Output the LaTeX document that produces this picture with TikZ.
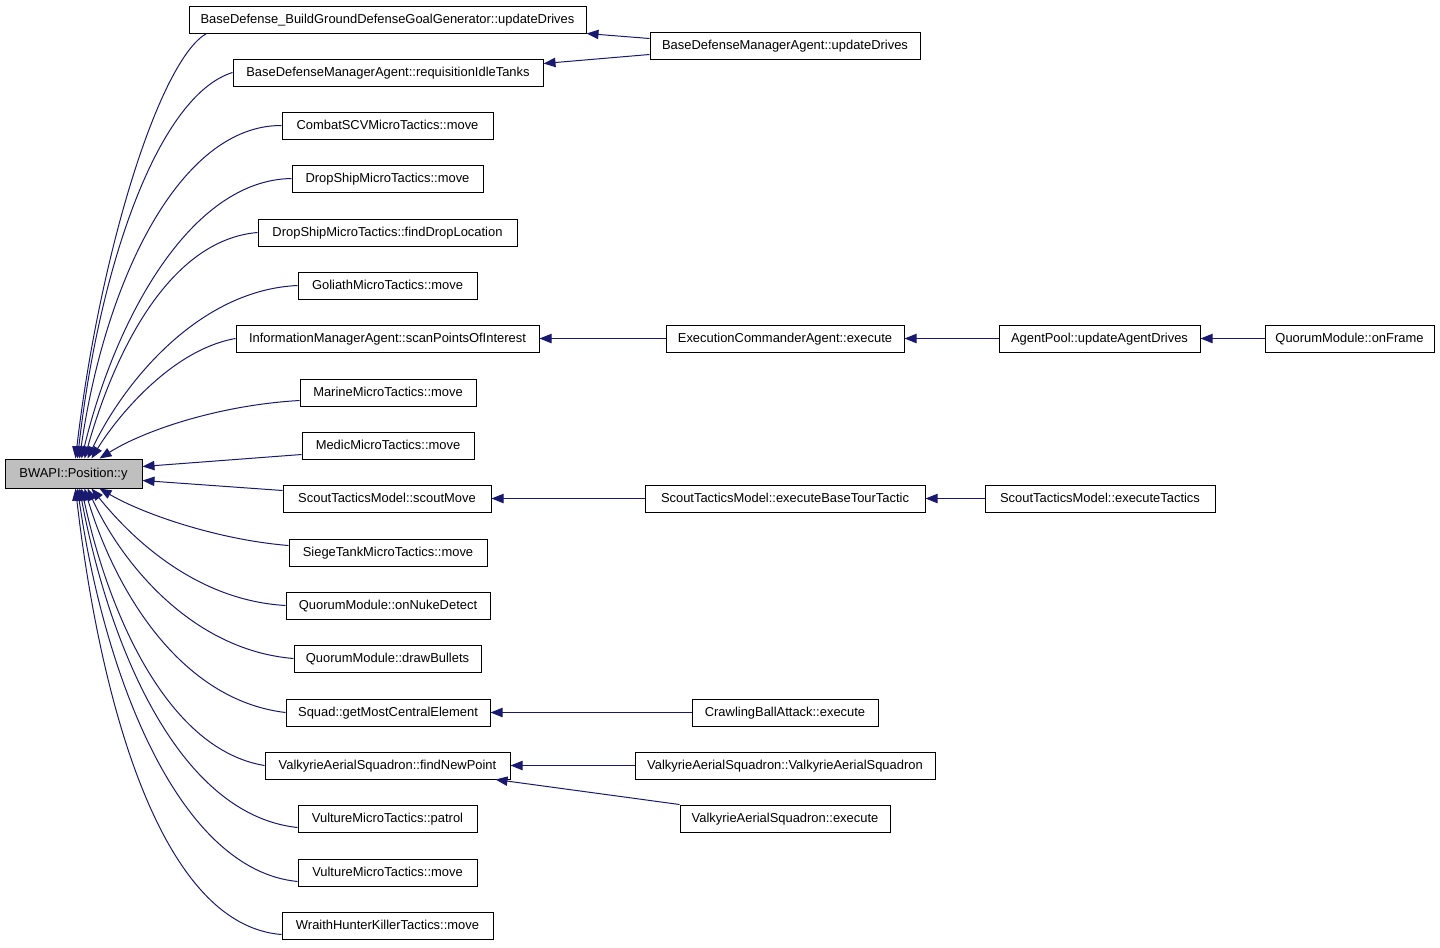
\documentclass[tikz,border=0pt]{standalone}
\usepackage{fontspec}
\setmainfont{Liberation Sans}
\usetikzlibrary{arrows.meta,calc}
\definecolor{edgeblue}{HTML}{191970}
\definecolor{rootgray}{HTML}{BFBFBF}
\begin{document}
\begin{tikzpicture}[x=0.75pt,y=-0.75pt,
  box/.style={draw=black,line width=0.75pt,fill=white,minimum height=20.25pt,inner sep=0pt,text height=7pt,text depth=0.5pt,font=\fontsize{9.7}{11}\selectfont},
  bw/.style={minimum width=#1*0.75pt},
  arr/.style={draw=edgeblue,line width=0.75pt,-{Triangle[length=9pt,width=7pt]}}]
\useasboundingbox (0,0) rectangle (1440,947);
% root
\node[box,fill=rootgray,bw=137,minimum height=21.75pt] (root) at (73.5,473.5) {BWAPI::Position::y};
% column 1
\node[box,bw=397] (b1) at (387.5,19.5) {BaseDefense\_BuildGroundDefenseGoalGenerator::updateDrives};
\node[box,bw=310] (b2) at (388,72.5) {BaseDefenseManagerAgent::requisitionIdleTanks};
\node[box,bw=211] (b3) at (387.5,125.5) {CombatSCVMicroTactics::move};
\node[box,bw=191] (b4) at (387.5,178.5) {DropShipMicroTactics::move};
\node[box,bw=259] (b5) at (387.5,232.5) {DropShipMicroTactics::findDropLocation};
\node[box,bw=179] (b6) at (387.5,285.5) {GoliathMicroTactics::move};
\node[box,bw=303] (b7) at (387.5,338.5) {InformationManagerAgent::scanPointsOfInterest};
\node[box,bw=176] (b8) at (388,392.5) {MarineMicroTactics::move};
\node[box,bw=172] (b9) at (388,445.5) {MedicMicroTactics::move};
\node[box,bw=208] (b10) at (387,498.5) {ScoutTacticsModel::scoutMove};
\node[box,bw=198] (b11) at (388,552.5) {SiegeTankMicroTactics::move};
\node[box,bw=204] (b12) at (388,605.5) {QuorumModule::onNukeDetect};
\node[box,bw=187] (b13) at (387.5,658.5) {QuorumModule::drawBullets};
\node[box,bw=204] (b14) at (388,712.5) {Squad::getMostCentralElement};
\node[box,bw=245] (b15) at (387.5,765.5) {ValkyrieAerialSquadron::findNewPoint};
\node[box,bw=179] (b16) at (387.5,818.5) {VultureMicroTactics::patrol};
\node[box,bw=179] (b17) at (387.5,872.5) {VultureMicroTactics::move};
\node[box,bw=211] (b18) at (387.5,925.5) {WraithHunterKillerTactics::move};
% column 2
\node[box,bw=270] (c1) at (785,45.5) {BaseDefenseManagerAgent::updateDrives};
\node[box,bw=238] (c2) at (785,338.5) {ExecutionCommanderAgent::execute};
\node[box,bw=280] (c3) at (785,498.5) {ScoutTacticsModel::executeBaseTourTactic};
\node[box,bw=186] (c4) at (785,712.5) {CrawlingBallAttack::execute};
\node[box,bw=300] (c5) at (785,765.5) {ValkyrieAerialSquadron::ValkyrieAerialSquadron};
\node[box,bw=210] (c6) at (785,818.5) {ValkyrieAerialSquadron::execute};
% column 3
\node[box,bw=201] (d1) at (1099.5,338.5) {AgentPool::updateAgentDrives};
\node[box,bw=230] (d2) at (1100,498.5) {ScoutTacticsModel::executeTactics};
% column 4
\node[box,bw=169] (e1) at (1349.5,338.5) {QuorumModule::onFrame};
% edges to root (upper)
\draw[arr] ($(b1.south west)+(18,0)$) .. controls (160,60) and (100,250) .. ($(root.north west)+(71,0)$);
\draw[arr] (b2.west) .. controls (160,95) and (100,260) .. ($(root.north west)+(73,0)$);
\draw[arr] (b3.west) .. controls (180,125) and (105,280) .. ($(root.north west)+(75,0)$);
\draw[arr] (b4.west) .. controls (190,180) and (115,320) .. ($(root.north west)+(77,0)$);
\draw[arr] (b5.west) .. controls (170,240) and (115,350) .. ($(root.north west)+(80,0)$);
\draw[arr] (b6.west) .. controls (200,290) and (125,380) .. ($(root.north west)+(83,0)$);
\draw[arr] (b7.west) .. controls (170,350) and (115,420) .. ($(root.north west)+(87,0)$);
\draw[arr] ($(b8.west)+(0,8)$) .. controls (220,405) and (145,430) .. ($(root.north west)+(95,0)$);
\draw[arr] ($(b9.west)+(0,9)$) -- ($(root.east)+(0,-7)$);
\draw[arr] ($(b10.west)+(0,-8)$) -- ($(root.east)+(0,7)$);
% edges to root (lower)
\draw[arr] ($(b11.west)+(0,-7)$) .. controls (220,540) and (145,515) .. ($(root.south west)+(95,0)$);
\draw[arr] (b12.west) .. controls (190,600) and (125,530) .. ($(root.south west)+(87,0)$);
\draw[arr] (b13.west) .. controls (190,650) and (120,560) .. ($(root.south west)+(83,0)$);
\draw[arr] (b14.west) .. controls (180,700) and (115,590) .. ($(root.south west)+(80,0)$);
\draw[arr] (b15.west) .. controls (170,750) and (110,620) .. ($(root.south west)+(77,0)$);
\draw[arr] ($(b16.west)+(0,9)$) .. controls (180,815) and (110,650) .. ($(root.south west)+(75,0)$);
\draw[arr] ($(b17.west)+(0,9)$) .. controls (180,870) and (105,680) .. ($(root.south west)+(73,0)$);
\draw[arr] ($(b18.west)+(0,9)$) .. controls (160,925) and (100,700) .. ($(root.south west)+(71,0)$);
% straight edges
\draw[arr] ($(c1.west)+(0,-7)$) -- (b1.south east);
\draw[arr] ($(c1.west)+(0,9)$) -- ($(b2.east)+(0,-9)$);
\draw[arr] (c2.west) -- (b7.east);
\draw[arr] (d1.west) -- (c2.east);
\draw[arr] (e1.west) -- (d1.east);
\draw[arr] (c3.west) -- (b10.east);
\draw[arr] (d2.west) -- (c3.east);
\draw[arr] (c4.west) -- (b14.east);
\draw[arr] (c5.west) -- (b15.east);
\draw[arr] (c6.north west) -- ($(b15.south east)+(-15,0)$);
\end{tikzpicture}
\end{document}
